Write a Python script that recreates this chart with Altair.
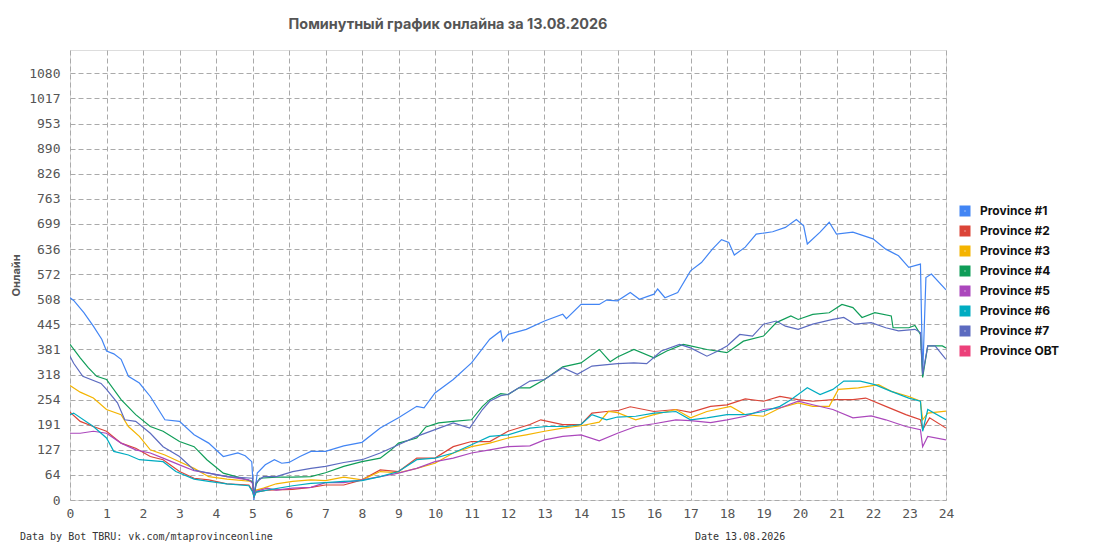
import altair as alt
import pandas as pd

TITLE = "Поминутный график онлайна за 13.08.2026"
FOOTER_LEFT = "Data by Bot TBRU: vk.com/mtaprovinceonline"
FOOTER_RIGHT = "Date 13.08.2026"
Y_TITLE = "Онлайн"

SERIES = ["Province #1", "Province #2", "Province #3", "Province #4",
          "Province #5", "Province #6", "Province #7", "Province OBT"]
COLORS = ["#4285F4", "#DB4437", "#F4B400", "#0F9D58",
          "#AB47BC", "#00ACC1", "#5C6BC0", "#EC407A"]

X_TICKS = list(range(25))
Y_LABELS = ["0", "64", "127", "191", "254", "318", "381", "445", "508", "572",
            "636", "699", "763", "826", "890", "953", "1017", "1080"]

P1_T = [0, 0.1, 0.38, 0.64, 0.87, 1.0, 1.2, 1.4, 1.6, 1.9, 2.2, 2.6, 3.0, 3.4, 3.8, 4.2,
        4.6, 4.8, 4.98, 5.04, 5.13, 5.35, 5.6, 5.8, 6.0, 6.3, 6.6, 7.0, 7.5, 8.0, 8.5, 9.0,
        9.5, 9.7, 10.0, 10.5, 11.0, 11.5, 11.8, 11.85, 12.0, 12.5, 13.0, 13.5, 13.6, 14.0,
        14.5, 14.7, 15.0, 15.35, 15.6, 16.0, 16.1, 16.3, 16.65, 17.0, 17.3, 17.6, 17.85,
        18.05, 18.2, 18.5, 18.8, 19.25, 19.6, 19.9, 20.1, 20.2, 20.55, 20.8, 21.0, 21.45,
        22.0, 22.35, 22.7, 22.98, 23.3, 23.36, 23.45, 23.6, 24.0]
P1_V = [512, 505, 474, 440, 407, 377, 370, 356, 313, 296, 262, 203, 199, 165, 144, 110,
        119, 112, 97, 0, 68, 89, 102, 93, 95, 110, 123, 123, 137, 146, 182, 208,
        237, 233, 271, 305, 347, 407, 428, 402, 419, 432, 453, 470, 459, 495,
        495, 506, 504, 525, 508, 521, 534, 512, 525, 580, 601, 635, 659,
        652, 620, 640, 673, 679, 690, 710, 694, 648, 678, 703, 673, 678,
        661, 635, 618, 589, 597, 314, 563, 572, 532]

P2_T = [0, 0.28, 0.64, 1.0, 1.4, 1.8, 2.2, 2.55, 3.0, 3.4, 3.8, 4.3, 4.9, 5.0, 5.04, 5.1,
        5.4, 6.1, 6.6, 7.0, 7.5, 8.0, 8.5, 9.0, 9.5, 10.0, 10.5, 11.0, 11.5, 12.0, 12.6,
        12.9, 13.5, 14.0, 14.3, 14.7, 15.0, 15.35, 16.0, 16.6, 17.0, 17.55, 18.0, 18.5,
        19.0, 19.45, 19.95, 20.35, 20.9, 21.45, 21.8, 22.35, 22.9, 23.3, 23.36, 23.55, 24.0]
P2_V = [222, 199, 186, 174, 144, 131, 110, 102, 72, 55, 51, 41, 38, 24, 8, 20,
        25, 27, 32, 38, 38, 51, 76, 72, 106, 106, 135, 148, 148, 174, 191,
        203, 191, 191, 220, 224, 226, 236, 224, 229, 222, 237, 241, 256,
        250, 262, 254, 250, 254, 254, 258, 237, 216, 203, 178, 208, 182]

P3_T = [0, 0.28, 0.64, 1.0, 1.4, 1.6, 1.9, 2.2, 2.6, 3.0, 3.4, 3.8, 4.3, 5.0, 5.04, 5.1,
        5.3, 5.65, 6.1, 6.6, 7.0, 7.5, 8.0, 8.5, 9.0, 9.5, 10.0, 10.5, 11.0, 11.5, 12.0,
        12.5, 13.0, 13.5, 14.0, 14.5, 14.75, 15.0, 15.5, 16.0, 16.6, 17.0, 17.45, 18.1,
        18.5, 19.0, 19.45, 19.95, 20.35, 20.8, 21.05, 21.6, 22.15, 22.5, 22.98, 23.3,
        23.36, 23.5, 24.0]
P3_V = [290, 273, 258, 229, 216, 186, 161, 127, 114, 97, 80, 59, 53, 47, 15, 25,
        30, 41, 47, 51, 49, 58, 51, 72, 69, 80, 93, 119, 135, 144, 157,
        165, 174, 182, 188, 197, 224, 221, 203, 216, 229, 208, 224, 237,
        216, 212, 233, 246, 237, 237, 280, 284, 292, 275, 262, 250,
        203, 220, 225]

P4_T = [0, 0.28, 0.5, 0.73, 1.0, 1.4, 1.8, 2.2, 2.55, 3.0, 3.4, 3.75, 4.2, 4.6, 5.0, 5.04,
        5.1, 5.2, 5.65, 6.1, 6.6, 7.0, 7.5, 8.0, 8.5, 8.8, 9.0, 9.5, 9.75, 10.1, 10.5, 11.0,
        11.3, 11.5, 11.8, 12.0, 12.3, 12.6, 13.0, 13.5, 14.0, 14.5, 14.8, 15.0, 15.45, 16.0,
        16.35, 16.8, 17.0, 17.45, 18.0, 18.45, 19.0, 19.35, 19.75, 19.95, 20.35, 20.8,
        21.15, 21.45, 21.7, 22.05, 22.5, 22.55, 22.98, 23.15, 23.3, 23.36, 23.5, 23.9, 24.0]
P4_V = [394, 360, 335, 313, 305, 254, 216, 186, 174, 148, 135, 102, 68, 58, 47, 12,
        40, 55, 58, 58, 59, 69, 85, 97, 106, 127, 144, 157, 185, 195, 199, 203,
        237, 254, 269, 267, 284, 284, 305, 337, 347, 381, 350, 362, 381, 360,
        377, 394, 390, 381, 373, 402, 415, 449, 466, 457, 470, 474,
        495, 487, 462, 474, 466, 436, 436, 442, 419, 310, 390, 390, 385]

P5_T = [0, 0.28, 0.64, 1.0, 1.4, 1.8, 2.2, 2.55, 3.0, 3.4, 3.8, 4.3, 4.9, 5.0, 5.04, 5.1,
        5.4, 5.65, 6.1, 6.6, 7.0, 7.5, 8.0, 8.5, 9.0, 9.5, 10.0, 10.5, 11.0, 11.5, 12.0,
        12.6, 13.0, 13.5, 14.0, 14.5, 15.0, 15.5, 16.0, 16.6, 17.0, 17.55, 18.0, 18.5,
        19.0, 19.45, 19.95, 20.35, 20.9, 21.45, 21.95, 22.35, 22.9, 23.3, 23.36, 23.5, 24.0]
P5_V = [169, 169, 174, 169, 144, 127, 119, 106, 89, 74, 68, 59, 51, 42, 10, 22,
        30, 25, 30, 32, 44, 44, 51, 59, 68, 80, 97, 106, 119, 127, 135,
        137, 152, 161, 165, 150, 169, 186, 193, 203, 201, 196, 203, 212,
        229, 233, 250, 241, 229, 208, 213, 203, 186, 178, 135, 161, 152]

P6_T = [0, 0.1, 0.64, 1.0, 1.2, 1.6, 1.9, 2.55, 2.9, 3.4, 3.8, 4.3, 4.9, 5.0, 5.04, 5.1,
        5.4, 6.1, 6.6, 7.0, 7.5, 8.0, 8.5, 9.0, 9.5, 10.0, 10.5, 11.0, 11.5, 12.0, 12.6,
        13.05, 13.6, 14.0, 14.3, 14.7, 15.0, 15.5, 16.0, 16.6, 17.0, 17.45, 18.0, 18.5,
        19.0, 19.45, 19.75, 20.2, 20.55, 20.9, 21.2, 21.65, 22.05, 22.5, 22.98, 23.3,
        23.36, 23.5, 24.0]
P6_V = [216, 220, 186, 157, 123, 114, 102, 97, 72, 53, 47, 41, 36, 21, 8, 20,
        25, 36, 42, 44, 47, 49, 59, 72, 102, 106, 119, 140, 161, 165, 182,
        186, 186, 191, 216, 203, 210, 212, 220, 224, 203, 208, 216, 216,
        224, 237, 254, 284, 267, 280, 301, 301, 292, 275, 258, 250,
        174, 229, 203]

P7_T = [0, 0.1, 0.35, 0.85, 1.0, 1.3, 1.5, 1.8, 2.2, 2.55, 3.0, 3.4, 3.8, 4.3, 5.0, 5.04,
        5.1, 5.3, 5.65, 6.1, 6.6, 7.0, 7.5, 8.0, 8.5, 9.0, 9.5, 10.0, 10.5, 10.95, 11.3,
        11.5, 11.8, 12.0, 12.6, 13.0, 13.5, 13.9, 14.3, 15.0, 15.45, 15.8, 16.2, 16.7,
        17.0, 17.45, 17.75, 18.0, 18.35, 18.7, 19.0, 19.35, 19.6, 19.95, 20.35, 20.9,
        21.2, 21.5, 21.95, 22.35, 22.7, 23.15, 23.3, 23.36, 23.5, 23.7, 24.0]
P7_V = [364, 346, 313, 295, 280, 246, 203, 199, 169, 135, 110, 76, 68, 59, 55, 14,
        45, 59, 59, 72, 80, 85, 95, 102, 119, 140, 161, 178, 195, 182, 229,
        250, 264, 267, 301, 305, 335, 318, 339, 345, 347, 345, 377, 394,
        385, 364, 377, 390, 419, 415, 445, 453, 440, 432, 445, 457,
        462, 445, 449, 436, 428, 432, 424, 318, 390, 390, 356]

rows = []
for name, ts, vs in [(SERIES[0], P1_T, P1_V), (SERIES[1], P2_T, P2_V),
                     (SERIES[2], P3_T, P3_V), (SERIES[3], P4_T, P4_V),
                     (SERIES[4], P5_T, P5_V), (SERIES[5], P6_T, P6_V),
                     (SERIES[6], P7_T, P7_V)]:
    for t, v in zip(ts, vs):
        rows.append({"series": name, "hour": t, "online": v})
df = pd.DataFrame(rows)

Y_STEP = 1080 / 17
Y_TICKS = [k * Y_STEP for k in range(18)]
Y_MAX = 1139
label_expr = "[" + ",".join("'%s'" % s for s in Y_LABELS) + "][round(datum.value*17/1080)]"

TICK_FONT = "DejaVu Sans Mono"

lines = alt.Chart(df).mark_line(strokeWidth=1.2, clip=True).encode(
    x=alt.X("hour:Q",
            scale=alt.Scale(domain=[0, 24], nice=False, zero=True),
            axis=alt.Axis(values=X_TICKS, title=None, grid=True, gridDash=[5, 3],
                          gridColor="#aaaaaa", gridWidth=1, ticks=False, domain=False,
                          labelFont=TICK_FONT, labelFontSize=13, labelColor="#555555",
                          labelPadding=7, labelFlush=False, labelOverlap=False)),
    y=alt.Y("online:Q",
            scale=alt.Scale(domain=[0, Y_MAX], nice=False, zero=True),
            axis=alt.Axis(values=Y_TICKS, labelExpr=label_expr, title=Y_TITLE,
                          grid=True, gridDash=[5, 3], gridColor="#aaaaaa", gridWidth=1,
                          ticks=False, domain=False,
                          labelFont=TICK_FONT, labelFontSize=13, labelColor="#555555",
                          labelPadding=10, labelOverlap=False, labelFlush=False,
                          titleFont="Inter", titleFontSize=11, titleFontWeight="bold",
                          titleColor="#555555", titleX=-54, titleY=225, titleAngle=270,
                          titleAlign="center", titleBaseline="middle")),
    color=alt.Color("series:N",
                    scale=alt.Scale(domain=SERIES, range=COLORS),
                    legend=alt.Legend(title=None, orient="none", legendX=889, legendY=155,
                                      symbolType="square", symbolSize=36,
                                      symbolStrokeWidth=5, symbolOpacity=1,
                                      labelFont="Inter", labelFontSize=12,
                                      labelFontWeight="bold", labelColor="#111111",
                                      labelOffset=9, rowPadding=8, clipHeight=12)),
)

footer_df = pd.DataFrame({"left": [FOOTER_LEFT], "right": [FOOTER_RIGHT]})
footer_left = alt.Chart(footer_df).mark_text(
    align="left", baseline="middle", font=TICK_FONT, fontSize=10, color="#333333"
).encode(x=alt.value(-50), y=alt.value(487), text="left:N")
footer_right = alt.Chart(footer_df).mark_text(
    align="left", baseline="middle", font=TICK_FONT, fontSize=10, color="#333333"
).encode(x=alt.value(625), y=alt.value(487), text="right:N")

chart = alt.layer(lines, footer_left, footer_right).properties(
    width=876, height=450,
    title=alt.TitleParams(TITLE, font="Inter", fontSize=14.4, fontWeight="bold",
                          color="#555555", anchor="middle", dx=-60, offset=18),
    autosize=alt.AutoSizeParams(type="none"),
    padding={"left": 62, "top": 42, "right": 140, "bottom": 45},
).configure_view(stroke="#555555", strokeWidth=1.5).configure(background="white")

chart.save("out.html", embed_options={"renderer": "svg", "actions": False})
